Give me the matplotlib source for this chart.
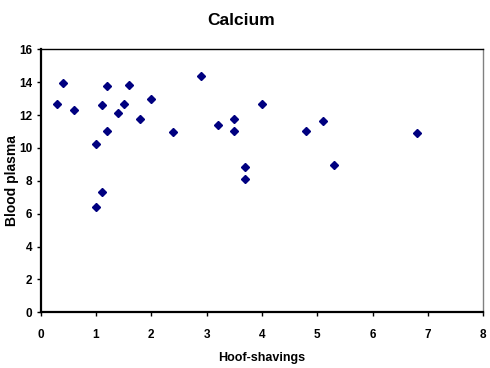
import matplotlib.pyplot as plt

plt.rcParams['font.family'] = ['Liberation Sans', 'DejaVu Sans']

# hoof-shavings vs blood plasma calcium
hoof = [0.3, 0.4, 0.6, 1.0, 1.0, 1.1, 1.1, 1.2, 1.2, 1.4, 1.5, 1.6, 1.8, 2.0,
        2.4, 2.9, 3.2, 3.5, 3.5, 3.7, 3.7, 4.0, 4.8, 5.1, 5.3, 6.8]
plasma = [12.65, 13.95, 12.3, 10.25, 6.4, 12.6, 7.3, 13.75, 11.05, 12.15, 12.7,
          13.8, 11.75, 12.95, 10.95, 14.35, 11.4, 11.75, 11.05, 8.85, 8.1,
          12.7, 11.05, 11.65, 8.95, 10.9]

xticks = list(range(0, 9))
yticks = list(range(0, 17, 2))

fig = plt.figure(figsize=(4.9, 3.68), dpi=100)
ax = fig.add_axes([0.083, 0.1514, 0.903, 0.7146])

ax.plot(hoof, plasma, linestyle='none', marker='D', markersize=3.7,
        color='#000080', markeredgecolor='#000080')

ax.set_xlim(0, 8)
ax.set_ylim(0, 16)
ax.set_xticks(xticks)
ax.set_yticks(yticks)
ax.tick_params(direction='out', length=3, width=1, labelsize=8.5)
ax.tick_params(axis='x', pad=9)
ax.tick_params(axis='y', pad=3)
for lab in ax.get_xticklabels() + ax.get_yticklabels():
    lab.set_fontweight('bold')

ax.spines['left'].set_linewidth(1.6)
ax.spines['bottom'].set_linewidth(1.6)
ax.spines['top'].set_linewidth(1)
ax.spines['right'].set_linewidth(1)
ax.spines['right'].set_color('#808080')

ax.set_xlabel('Hoof-shavings', fontsize=9, fontweight='bold', labelpad=8)
ax.set_ylabel('Blood plasma', fontsize=10, fontweight='bold')
ax.yaxis.set_label_coords(-0.048, 0.5)
fig.text(0.492, 0.945, 'Calcium', ha='center', va='center', fontsize=12.5,
         fontweight='bold')

fig.savefig('out.png', dpi=100)
